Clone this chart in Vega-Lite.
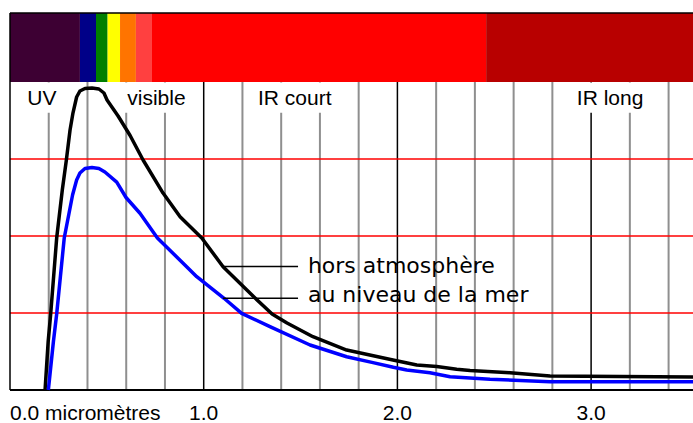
{
  "$schema": "https://vega.github.io/schema/vega-lite/v6.json",
  "width": 683,
  "height": 377,
  "autosize": {"type": "none"},
  "padding": {"left": 10, "top": 13, "right": 0, "bottom": 33},
  "background": "white",
  "config": {"view": {"stroke": null}},
  "datasets": {
    "bands": [
      {"from": 0, "to": 0.361, "color": "#3d0033"},
      {"from": 0.361, "to": 0.444, "color": "#000088"},
      {"from": 0.444, "to": 0.504, "color": "#007f00"},
      {"from": 0.504, "to": 0.568, "color": "#ffff00"},
      {"from": 0.568, "to": 0.650, "color": "#ff7400"},
      {"from": 0.650, "to": 0.733, "color": "#ff4040"},
      {"from": 0.733, "to": 2.458, "color": "#ff0000"},
      {"from": 2.458, "to": 3.526, "color": "#b80000"}
    ],
    "grid": [
      {"x": 0.2, "kind": "minor"}, {"x": 0.4, "kind": "minor"}, {"x": 0.6, "kind": "minor"}, {"x": 0.8, "kind": "minor"},
      {"x": 1.0, "kind": "major"}, {"x": 1.2, "kind": "minor"}, {"x": 1.4, "kind": "minor"}, {"x": 1.6, "kind": "minor"},
      {"x": 1.8, "kind": "minor"}, {"x": 2.0, "kind": "major"}, {"x": 2.2, "kind": "minor"}, {"x": 2.4, "kind": "minor"},
      {"x": 2.6, "kind": "minor"}, {"x": 2.8, "kind": "minor"}, {"x": 3.0, "kind": "major"}, {"x": 3.2, "kind": "minor"},
      {"x": 3.4, "kind": "minor"}
    ],
    "regions": [
      {"label": "UV", "from": 0.1, "to": 0.3, "at": 0.165},
      {"label": "visible", "from": 0.5, "to": 0.9, "at": 0.756},
      {"label": "IR court", "from": 1.3, "to": 1.7, "at": 1.470},
      {"label": "IR long", "from": 2.9, "to": 3.3, "at": 3.098}
    ],
    "ticklabels": [
      {"v": 0, "text": "0.0 micromètres", "first": true},
      {"v": 1, "text": "1.0", "first": false},
      {"v": 2, "text": "2.0", "first": false},
      {"v": 3, "text": "3.0", "first": false}
    ],
    "hlines": [{"v": 1}, {"v": 2}, {"v": 3}],
    "spectrum": [
      {"series": "hors atmosphère", "um": 0.181, "value": 0},
      {"series": "hors atmosphère", "um": 0.197, "value": 0.627},
      {"series": "hors atmosphère", "um": 0.210, "value": 0.987},
      {"series": "hors atmosphère", "um": 0.241, "value": 1.974},
      {"series": "hors atmosphère", "um": 0.270, "value": 2.597},
      {"series": "hors atmosphère", "um": 0.291, "value": 2.987},
      {"series": "hors atmosphère", "um": 0.310, "value": 3.377},
      {"series": "hors atmosphère", "um": 0.325, "value": 3.597},
      {"series": "hors atmosphère", "um": 0.344, "value": 3.805},
      {"series": "hors atmosphère", "um": 0.361, "value": 3.883},
      {"series": "hors atmosphère", "um": 0.387, "value": 3.916},
      {"series": "hors atmosphère", "um": 0.423, "value": 3.922},
      {"series": "hors atmosphère", "um": 0.459, "value": 3.909},
      {"series": "hors atmosphère", "um": 0.485, "value": 3.857},
      {"series": "hors atmosphère", "um": 0.501, "value": 3.766},
      {"series": "hors atmosphère", "um": 0.558, "value": 3.558},
      {"series": "hors atmosphère", "um": 0.620, "value": 3.305},
      {"series": "hors atmosphère", "um": 0.687, "value": 2.987},
      {"series": "hors atmosphère", "um": 0.790, "value": 2.558},
      {"series": "hors atmosphère", "um": 0.878, "value": 2.251},
      {"series": "hors atmosphère", "um": 0.990, "value": 1.974},
      {"series": "hors atmosphère", "um": 1.100, "value": 1.601},
      {"series": "hors atmosphère", "um": 1.265, "value": 1.195},
      {"series": "hors atmosphère", "um": 1.353, "value": 0.987},
      {"series": "hors atmosphère", "um": 1.430, "value": 0.870},
      {"series": "hors atmosphère", "um": 1.564, "value": 0.692},
      {"series": "hors atmosphère", "um": 1.738, "value": 0.519},
      {"series": "hors atmosphère", "um": 1.977, "value": 0.390},
      {"series": "hors atmosphère", "um": 2.100, "value": 0.325},
      {"series": "hors atmosphère", "um": 2.203, "value": 0.305},
      {"series": "hors atmosphère", "um": 2.306, "value": 0.269},
      {"series": "hors atmosphère", "um": 2.375, "value": 0.253},
      {"series": "hors atmosphère", "um": 2.581, "value": 0.225},
      {"series": "hors atmosphère", "um": 2.788, "value": 0.182},
      {"series": "hors atmosphère", "um": 3.149, "value": 0.175},
      {"series": "hors atmosphère", "um": 3.526, "value": 0.170},
      {"series": "au niveau de la mer", "um": 0.198, "value": 0},
      {"series": "au niveau de la mer", "um": 0.224, "value": 0.627},
      {"series": "au niveau de la mer", "um": 0.241, "value": 0.987},
      {"series": "au niveau de la mer", "um": 0.280, "value": 1.974},
      {"series": "au niveau de la mer", "um": 0.323, "value": 2.532},
      {"series": "au niveau de la mer", "um": 0.344, "value": 2.727},
      {"series": "au niveau de la mer", "um": 0.361, "value": 2.818},
      {"series": "au niveau de la mer", "um": 0.387, "value": 2.877},
      {"series": "au niveau de la mer", "um": 0.423, "value": 2.890},
      {"series": "au niveau de la mer", "um": 0.459, "value": 2.877},
      {"series": "au niveau de la mer", "um": 0.490, "value": 2.831},
      {"series": "au niveau de la mer", "um": 0.551, "value": 2.700},
      {"series": "au niveau de la mer", "um": 0.599, "value": 2.500},
      {"series": "au niveau de la mer", "um": 0.671, "value": 2.295},
      {"series": "au niveau de la mer", "um": 0.761, "value": 1.974},
      {"series": "au niveau de la mer", "um": 0.912, "value": 1.601},
      {"series": "au niveau de la mer", "um": 0.964, "value": 1.471},
      {"series": "au niveau de la mer", "um": 1.105, "value": 1.191},
      {"series": "au niveau de la mer", "um": 1.196, "value": 0.996},
      {"series": "au niveau de la mer", "um": 1.342, "value": 0.822},
      {"series": "au niveau de la mer", "um": 1.549, "value": 0.584},
      {"series": "au niveau de la mer", "um": 1.738, "value": 0.432},
      {"series": "au niveau de la mer", "um": 1.874, "value": 0.355},
      {"series": "au niveau de la mer", "um": 1.979, "value": 0.295},
      {"series": "au niveau de la mer", "um": 2.048, "value": 0.260},
      {"series": "au niveau de la mer", "um": 2.168, "value": 0.225},
      {"series": "au niveau de la mer", "um": 2.272, "value": 0.173},
      {"series": "au niveau de la mer", "um": 2.478, "value": 0.139},
      {"series": "au niveau de la mer", "um": 2.788, "value": 0.108},
      {"series": "au niveau de la mer", "um": 3.526, "value": 0.108}
    ],
    "legend": [
      {"text": "hors atmosphère", "x0": 1.100, "x1": 1.487, "ly": 1.605, "tx": 1.538, "ty": 1.516},
      {"text": "au niveau de la mer", "x0": 1.100, "x1": 1.487, "ly": 1.190, "tx": 1.538, "ty": 1.147}
    ]
  },
  "layer": [
    {
      "data": {"name": "bands"},
      "mark": {"type": "rect"},
      "encoding": {
        "x": {"field": "from", "type": "quantitative", "scale": {"domain": [0, 3.526], "nice": false, "zero": false}, "axis": null},
        "x2": {"field": "to"},
        "y": {"datum": 4, "type": "quantitative", "scale": {"domain": [0, 4.896], "nice": false, "zero": false}, "axis": null},
        "y2": {"datum": 4.896},
        "color": {"field": "color", "type": "nominal", "scale": null}
      }
    },
    {
      "data": {"name": "grid"},
      "mark": {"type": "rule"},
      "encoding": {
        "x": {"field": "x", "type": "quantitative", "axis": null},
        "y": {"datum": 0, "type": "quantitative", "axis": null},
        "y2": {"datum": 4},
        "stroke": {"field": "kind", "type": "nominal", "scale": {"domain": ["minor", "major"], "range": ["#8f8f8f", "#000000"]}, "legend": null},
        "strokeWidth": {"field": "kind", "type": "nominal", "scale": {"domain": ["minor", "major"], "range": [2, 1.5]}, "legend": null}
      }
    },
    {
      "data": {"name": "regions"},
      "mark": {"type": "rect", "color": "white"},
      "encoding": {
        "x": {"field": "from", "type": "quantitative", "axis": null},
        "x2": {"field": "to"},
        "y": {"datum": 3.6, "type": "quantitative", "axis": null},
        "y2": {"datum": 3.995}
      }
    },
    {
      "data": {"name": "hlines"},
      "mark": {"type": "rule", "color": "#ff0000", "strokeWidth": 1.5},
      "encoding": {
        "y": {"field": "v", "type": "quantitative", "axis": null},
        "x": {"datum": 0, "type": "quantitative", "axis": null},
        "x2": {"datum": 3.526}
      }
    },
    {
      "data": {"values": [{}]},
      "mark": {"type": "rule", "color": "#000000", "strokeWidth": 1.5},
      "encoding": {
        "x": {"datum": 0, "type": "quantitative", "axis": null},
        "y": {"datum": 0, "type": "quantitative", "axis": null},
        "y2": {"datum": 4.896}
      }
    },
    {
      "data": {"values": [{}]},
      "mark": {"type": "rule", "color": "#000000", "strokeWidth": 1.5},
      "encoding": {
        "x": {"datum": 0, "type": "quantitative", "axis": null},
        "x2": {"datum": 3.526},
        "y": {"datum": 4.896, "type": "quantitative", "axis": null}
      }
    },
    {
      "data": {"values": [{}]},
      "mark": {"type": "rule", "color": "#000000", "strokeWidth": 2},
      "encoding": {
        "x": {"datum": 0, "type": "quantitative", "axis": null},
        "x2": {"datum": 3.526},
        "y": {"datum": 0, "type": "quantitative", "axis": null}
      }
    },
    {
      "data": {"name": "spectrum"},
      "mark": {"type": "line", "strokeWidth": 3.5, "strokeJoin": "round"},
      "encoding": {
        "x": {"field": "um", "type": "quantitative", "axis": null},
        "y": {"field": "value", "type": "quantitative", "axis": null},
        "color": {"field": "series", "type": "nominal", "scale": {"domain": ["au niveau de la mer", "hors atmosphère"], "range": ["#0000ff", "#000000"]}, "legend": null},
        "order": {"field": "um", "type": "quantitative"}
      }
    },
    {
      "data": {"name": "legend"},
      "mark": {"type": "rule", "color": "#000000", "strokeWidth": 1.5},
      "encoding": {
        "x": {"field": "x0", "type": "quantitative", "axis": null},
        "x2": {"field": "x1"},
        "y": {"field": "ly", "type": "quantitative", "axis": null}
      }
    },
    {
      "data": {"name": "legend"},
      "mark": {"type": "text", "align": "left", "baseline": "alphabetic", "font": "DejaVu Sans", "fontSize": 22, "color": "#000000"},
      "encoding": {
        "x": {"field": "tx", "type": "quantitative", "axis": null},
        "y": {"field": "ty", "type": "quantitative", "axis": null},
        "text": {"field": "text"}
      }
    },
    {
      "data": {"name": "regions"},
      "mark": {"type": "text", "align": "center", "baseline": "alphabetic", "font": "Liberation Sans", "fontSize": 21, "color": "#000000"},
      "encoding": {
        "x": {"field": "at", "type": "quantitative", "axis": null},
        "y": {"datum": 3.695, "type": "quantitative", "axis": null},
        "text": {"field": "label"}
      }
    },
    {
      "data": {"name": "ticklabels"},
      "transform": [{"filter": "datum.first"}],
      "mark": {"type": "text", "align": "left", "baseline": "alphabetic", "font": "Liberation Sans", "fontSize": 21, "color": "#000000"},
      "encoding": {
        "x": {"field": "v", "type": "quantitative", "axis": null},
        "y": {"datum": -0.39, "type": "quantitative", "axis": null},
        "text": {"field": "text"}
      }
    },
    {
      "data": {"name": "ticklabels"},
      "transform": [{"filter": "!datum.first"}],
      "mark": {"type": "text", "align": "center", "baseline": "alphabetic", "font": "Liberation Sans", "fontSize": 21, "color": "#000000"},
      "encoding": {
        "x": {"field": "v", "type": "quantitative", "axis": null},
        "y": {"datum": -0.39, "type": "quantitative", "axis": null},
        "text": {"field": "text"}
      }
    }
  ]
}
